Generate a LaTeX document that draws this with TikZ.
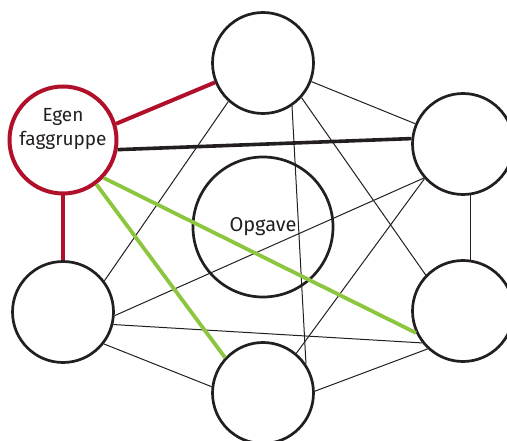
\documentclass[tikz,border=0pt]{standalone}
\usepackage{fontspec}
\setmainfont{Fira Sans}
\definecolor{ered}{HTML}{B0102A}
\definecolor{egreen}{HTML}{8CC63F}
\definecolor{eblack}{HTML}{231F20}
\begin{document}
\begin{tikzpicture}[x=1pt,y=-1pt,
  circ/.style={circle,draw=eblack,line width=2.7pt,inner sep=0pt,minimum size=101pt},
  egen/.style={circle,draw=ered,line width=4pt,inner sep=0pt,minimum size=107pt},
  lbl/.style={align=center,inner sep=0pt,font=\fontsize{19}{24}\selectfont,text=eblack},
  task/.style={circle,draw=eblack,line width=2.7pt,inner sep=0pt,minimum size=140pt,font=\fontsize{20}{22}\selectfont,text=eblack},
  thin/.style={draw=eblack,line width=1pt},
  redl/.style={draw=ered,line width=4pt},
  greenl/.style={draw=egreen,line width=3.8pt},
  blackl/.style={draw=eblack,line width=3.6pt}]
\useasboundingbox (0,0) rectangle (507,441);
\node[circ] (T) at (263,63) {};
\node[egen] (E) at (63,140) {};
\node[lbl] (Etext) at (63,129) {Egen\\faggruppe};
\node[circ] (RT) at (463,144) {};
\node[task] (O) at (263,227) {Opgave};
\node[circ] (LB) at (63,312) {};
\node[circ] (RB) at (463,311) {};
\node[circ] (B) at (263,393) {};
% thin connectors
\draw[thin] (T.-21.4) -- (RT.157.4);
\draw[thin] (T.228.8) -- (LB.37.3);
\draw[thin] (T.-56.2) -- (B.34.5);
\draw[thin] (T.-42.4) -- (RB.136.5);
\draw[thin] (RT.221.9) -- (LB.-4.4);
\draw[thin] (RT.222) -- (B.50.8);
\draw[thin] (RT.-82.3) -- (RB.82.3);
\draw[thin] (LB.-14) -- (RB.218);
\draw[thin] (LB.-38.2) -- (B.173.7);
\draw[thin] (B.2.5) -- (RB.227);
% coloured connectors
\draw[redl] (E.17.3) -- (T.202.3);
\draw[redl] (E.south) -- (LB.north);
\draw[blackl] (E.-10.6) -- (RT.174.4);
\draw[greenl] (E.-53.2) -- (B.137.1);
\draw[greenl] (E.-43.5) -- (RB.205.6);
\end{tikzpicture}
\end{document}
